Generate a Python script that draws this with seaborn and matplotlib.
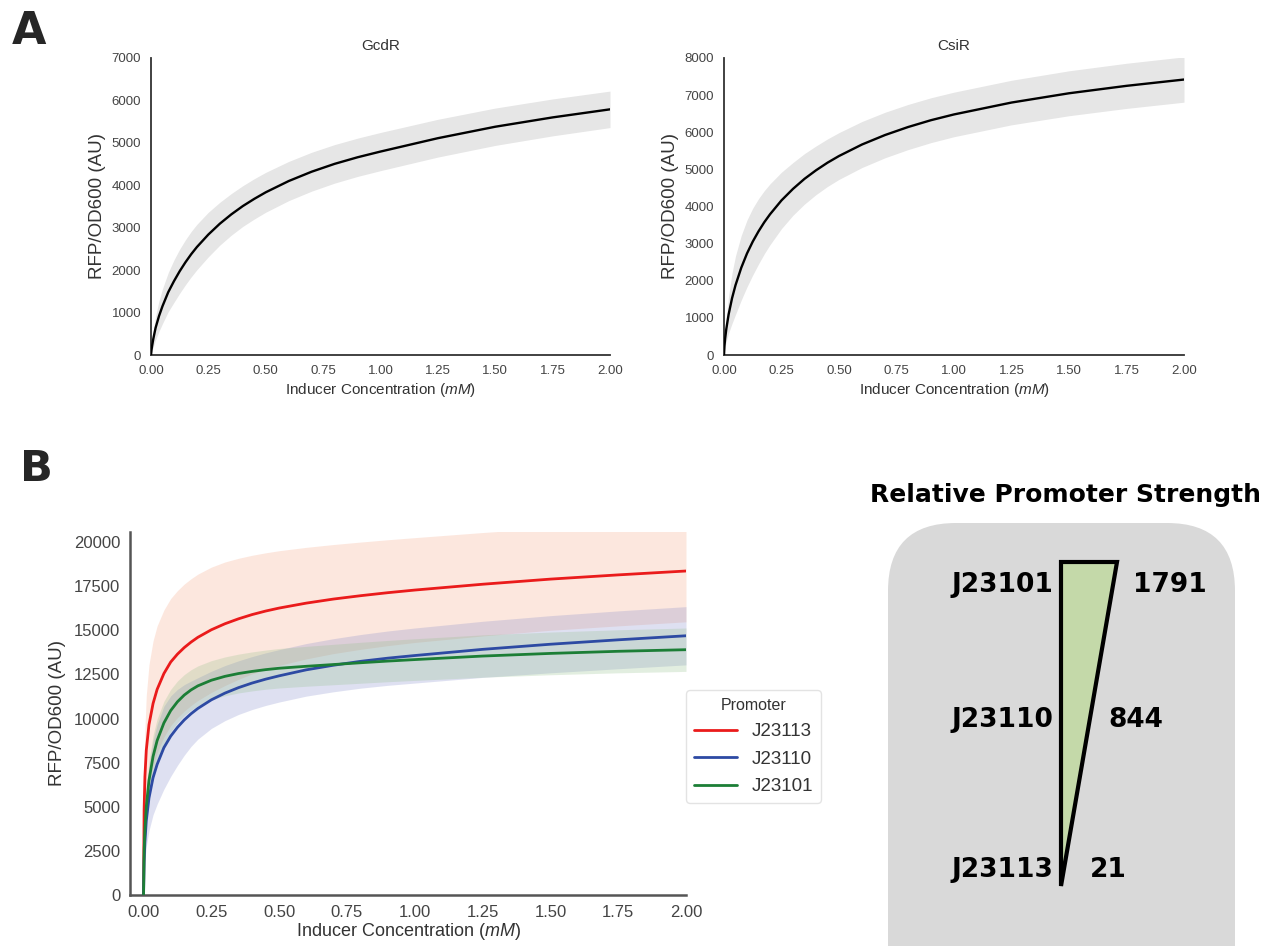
import numpy as np
import pandas as pd
import matplotlib
matplotlib.use("Agg")
import matplotlib.pyplot as plt
import seaborn as sns
from matplotlib.patches import FancyBboxPatch, Polygon

# ---------------- data ----------------
conc = [0, 0.002, 0.005, 0.01, 0.02, 0.035, 0.05, 0.075, 0.1, 0.125, 0.15, 0.175,
        0.2, 0.25, 0.3, 0.35, 0.4, 0.45, 0.5, 0.6, 0.7, 0.8, 0.9, 1.0,
        1.25, 1.5, 1.75, 2.0]

gcdr_mean = [0, 110, 220, 380, 640, 920, 1150, 1480, 1740, 1975, 2185, 2375,
             2545, 2840, 3095, 3315, 3510, 3680, 3835, 4100, 4320, 4505, 4660, 4795,
             5110, 5380, 5600, 5790]
gcdr_err = [0, 60, 120, 190, 280, 360, 410, 460, 500, 520, 530, 535,
            535, 525, 505, 490, 480, 475, 470, 462, 458, 454, 451, 450,
            445, 440, 435, 430]
csir_mean = [0, 240, 445, 700, 1090, 1530, 1880, 2350, 2735, 3055, 3330, 3575,
             3790, 4165, 4475, 4745, 4975, 5180, 5360, 5670, 5925, 6140, 6325, 6480,
             6800, 7050, 7250, 7420]
csir_err = [0, 110, 210, 330, 500, 680, 790, 870, 900, 900, 880, 850,
            820, 760, 710, 680, 655, 640, 630, 620, 613, 608, 604, 600,
            600, 605, 608, 610]

promoters = ["J23113", "J23110", "J23101"]
j23113_mean = [0, 4800, 6700, 8200, 9650, 10850, 11650, 12550, 13200, 13650, 14020, 14330,
               14600, 15030, 15370, 15650, 15890, 16090, 16260, 16540, 16770, 16960, 17130, 17280,
               17610, 17900, 18140, 18360]
j23113_err = [0, 2000, 2700, 3100, 3400, 3550, 3600, 3600, 3600, 3600, 3600, 3590,
              3580, 3550, 3500, 3430, 3360, 3300, 3250, 3160, 3090, 3040, 3000, 2970,
              2930, 2900, 2890, 2880]
j23110_mean = [0, 1900, 3000, 4200, 5500, 6650, 7400, 8350, 9000, 9500, 9920, 10270,
               10570, 11060, 11440, 11750, 12010, 12230, 12420, 12760, 13020, 13240, 13420, 13570,
               13920, 14210, 14460, 14690]
j23110_err = [0, 600, 1000, 1450, 1850, 2100, 2250, 2350, 2280, 2150, 2000, 1850,
              1740, 1620, 1560, 1520, 1500, 1490, 1485, 1490, 1505, 1520, 1540, 1560,
              1590, 1620, 1640, 1650]
j23101_mean = [0, 2500, 3700, 5000, 6500, 7850, 8750, 9750, 10450, 10950, 11330, 11620,
               11850, 12170, 12390, 12550, 12670, 12770, 12850, 12960, 13060, 13160, 13255, 13340,
               13540, 13690, 13810, 13900]
j23101_err = [0, 500, 750, 950, 1100, 1200, 1230, 1230, 1200, 1180, 1160, 1145,
              1130, 1110, 1100, 1100, 1105, 1110, 1120, 1130, 1145, 1160, 1170, 1180,
              1200, 1210, 1220, 1230]

strength_names = ["J23101", "J23110", "J23113"]
strength_values = [1791, 844, 21]

x_ticks = [0, 0.25, 0.5, 0.75, 1.0, 1.25, 1.5, 1.75, 2.0]

line_colors = ["#ea1b1b", "#2d4aa3", "#1c7e36"]
band_colors = ["#f6a07d", "#7f86c9", "#8fbf86"]

# ---------------- style ----------------
sns.set_theme(style="white")
plt.rcParams["font.family"] = ["Liberation Sans", "DejaVu Sans"]
plt.rcParams["mathtext.fontset"] = "custom"
plt.rcParams["mathtext.it"] = "Liberation Sans:italic"
plt.rcParams["mathtext.rm"] = "Liberation Sans"

W, H = 1270, 946
fig = plt.figure(figsize=(W / 100, H / 100), dpi=100)


def ax_px(l, t, r, b):
    return fig.add_axes([l / W, 1 - b / H, (r - l) / W, (b - t) / H])


xlabel = "Inducer Concentration ($mM$)"

# ---------------- panel A ----------------
axA1 = ax_px(151, 58, 610, 355)
axA2 = ax_px(724, 58, 1184, 355)
for ax, name, mean, err, ymax in [(axA1, "GcdR", gcdr_mean, gcdr_err, 7000),
                                   (axA2, "CsiR", csir_mean, csir_err, 8000)]:
    m = np.array(mean, float)
    e = np.array(err, float)
    ax.fill_between(conc, m - e, m + e, color="#e6e6e6", lw=0, zorder=1)
    sns.lineplot(x=conc, y=mean, ax=ax, color="black", lw=1.7, estimator=None, zorder=3)
    ax.set_xlim(0, 2)
    ax.set_ylim(0, ymax)
    ax.set_xticks(x_ticks)
    ax.xaxis.set_major_formatter("{x:.2f}")
    ax.set_yticks(range(0, ymax + 1, 1000))
    ax.set_title(name, fontsize=11, color="#333333", pad=6)
    ax.set_xlabel(xlabel, fontsize=11, color="#333333", labelpad=3)
    ax.set_ylabel("RFP/OD600 (AU)", fontsize=13.5, color="#333333", labelpad=4)
    ax.tick_params(labelsize=9.5, colors="#444444", length=0, pad=7)
    sns.despine(ax=ax)
    for s in ("left", "bottom"):
        ax.spines[s].set_color("#333333")
        ax.spines[s].set_linewidth(1.3)

# ---------------- panel B ----------------
axB = ax_px(130, 532, 686, 895)
means = [j23113_mean, j23110_mean, j23101_mean]
errs = [j23113_err, j23110_err, j23101_err]
for m, e, bc in zip(means, errs, band_colors):
    m = np.array(m, float)
    e = np.array(e, float)
    axB.fill_between(conc, m - e, m + e, color=bc, alpha=0.25, lw=0, zorder=1)

dfB = pd.DataFrame({
    "conc": conc * 3,
    "rfp": j23113_mean + j23110_mean + j23101_mean,
    "Promoter": np.repeat(promoters, len(conc)),
})
sns.lineplot(data=dfB, x="conc", y="rfp", hue="Promoter", hue_order=promoters,
             palette=dict(zip(promoters, line_colors)), lw=2.0, estimator=None,
             ax=axB, zorder=3)
axB.set_xlim(-0.05, 2.0)
axB.set_ylim(0, 20570)
axB.set_xticks(x_ticks)
axB.xaxis.set_major_formatter("{x:.2f}")
axB.set_yticks(range(0, 20001, 2500))
axB.set_xlabel(xlabel, fontsize=13, color="#333333", labelpad=1)
axB.set_ylabel("RFP/OD600 (AU)", fontsize=13.5, color="#333333", labelpad=6)
axB.tick_params(labelsize=12, colors="#444444", length=0, pad=7)
sns.despine(ax=axB)
for s in ("left", "bottom"):
    axB.spines[s].set_color("#555555")
    axB.spines[s].set_linewidth(1.8)
sns.move_legend(axB, "center left", bbox_to_anchor=(1.0, 0.409), frameon=True,
                title="Promoter", fontsize=13.5, title_fontsize=11.5,
                borderaxespad=0, handlelength=2.3, labelspacing=0.55)
leg = axB.get_legend()
leg.get_frame().set_edgecolor("#dddddd")
leg.get_title().set_color("#333333")
for t in leg.get_texts():
    t.set_color("#333333")

# ---------------- promoter strength diagram ----------------
axR = fig.add_axes([860 / W, 0, 410 / W, (H - 465) / H])
axR.set_xlim(860, 1270)
axR.set_ylim(946, 465)
axR.axis("off")
axR.add_patch(FancyBboxPatch((888, 523), 347, 520,
                             boxstyle="round,pad=0,rounding_size=68",
                             fc="#d9d9d9", ec="none"))
axR.add_patch(Polygon([(1061, 562), (1117, 562), (1061, 886)], closed=True,
                      fc="#c4d9a9", ec="black", lw=3, joinstyle="miter"))
axR.text(1066, 495, "Relative Promoter Strength", ha="center", va="center",
         fontsize=18, fontweight="bold", family="DejaVu Sans", color="black")
label_y = [592, 727, 877]
value_x = [1133, 1108, 1090]
for name, val, y, vx in zip(strength_names, strength_values, label_y, value_x):
    axR.text(1053, y, name, ha="right", va="baseline", fontsize=19,
             fontweight="bold", family="DejaVu Sans", color="black")
    axR.text(vx, y, str(val), ha="left", va="baseline", fontsize=19,
             fontweight="bold", family="DejaVu Sans", color="black")

# ---------------- panel letters ----------------
fig.text(12 / W, 1 - 44 / H, "A", fontsize=32, fontweight="bold",
         family="DejaVu Sans", va="baseline", ha="left")
fig.text(20 / W, 1 - 481 / H, "B", fontsize=31, fontweight="bold",
         family="DejaVu Sans", va="baseline", ha="left")

fig.savefig("out.png", dpi=100)
